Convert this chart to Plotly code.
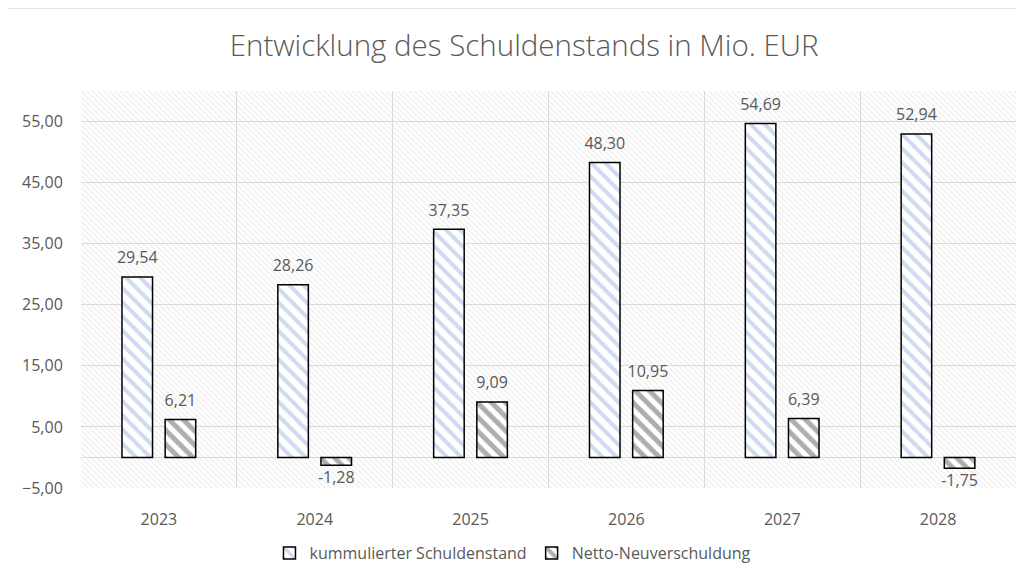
import plotly.graph_objects as go

years = ["2023", "2024", "2025", "2026", "2027", "2028"]
kumuliert = [29.54, 28.26, 37.35, 48.30, 54.69, 52.94]
netto = [6.21, -1.28, 9.09, 10.95, 6.39, -1.75]
y_ticks = [-5, 5, 15, 25, 35, 45, 55]

pos = list(range(len(years)))
TXT = "#595959"
GRID = "#d9d9d9"
FONT = "Open Sans"
BW = 0.196
OFF1, OFF2 = -0.237, 0.04

fig = go.Figure()

# hatched plot-area background
fig.add_trace(go.Bar(
    x=[(len(years) - 1) / 2], y=[65], base=[-5], width=[len(years)],
    marker=dict(color="rgba(0,0,0,0)", line=dict(width=0),
                pattern=dict(shape="\\", fgcolor="#dedede", bgcolor="rgba(0,0,0,0)",
                             size=4, solidity=0.35)),
    showlegend=False, hoverinfo="skip",
))

series = [
    ("kummulierter Schuldenstand", kumuliert, OFF1, "#9cb6e2", 0.4),
    ("Netto-Neuverschuldung", netto, OFF2, "#5e5e5e", 0.5),
]
for name, vals, off, col, sol in series:
    fig.add_trace(go.Bar(
        name=name, x=pos, y=vals, width=BW, offset=off,
        marker=dict(color="white", line=dict(color="black", width=1.5),
                    pattern=dict(shape="\\", fgcolor=col, bgcolor="white",
                                 size=10, solidity=sol)),
        hoverinfo="skip",
    ))
for name, vals, off, col, sol in series:
    fig.add_trace(go.Scatter(
        x=[p + off + BW / 2 for p in pos], y=vals,
        mode="markers+text", texttemplate="%{y:.2f}",
        textposition=["top center" if v >= 0 else "bottom center" for v in vals],
        marker=dict(size=[14 if v >= 0 else 8 for v in vals], opacity=0),
        textfont=dict(family=FONT, size=16, color=TXT),
        showlegend=False, hoverinfo="skip", cliponaxis=False,
    ))

fig.update_layout(
    width=1016, height=575,
    margin=dict(l=73, r=8, t=83, b=95),
    paper_bgcolor="white", plot_bgcolor="white",
    barmode="overlay", separators=",.",
    font=dict(family=FONT, size=16, color=TXT),
    title=dict(text="Entwicklung des Schuldenstands in Mio. EUR",
               x=0.508, xanchor="center", y=0.935, yanchor="middle",
               font=dict(family=FONT, size=29.5, color=TXT, weight=300)),
    legend=dict(orientation="h", x=0.462, xanchor="center", y=-0.164, yanchor="middle",
                font=dict(family=FONT, size=16, color=TXT), itemwidth=30,
                traceorder="normal"),
    xaxis=dict(range=[-0.5, len(years) - 0.5], tickmode="array", tickvals=pos, ticktext=years,
               showgrid=False, zeroline=False, showline=False,
               ticks="outside", ticklen=17, tickcolor="rgba(0,0,0,0)",
               tickfont=dict(family=FONT, size=16, color=TXT),
               minor=dict(tickmode="array", tickvals=[p - 0.5 for p in pos] + [len(years) - 0.5],
                          showgrid=True, gridcolor=GRID, gridwidth=1.3, ticks="")),
    yaxis=dict(range=[-5, 60], tickmode="array", tickvals=y_ticks, tickformat=".2f",
               showgrid=True, gridcolor=GRID, gridwidth=1.3,
               zeroline=True, zerolinecolor=GRID, zerolinewidth=1.3, showline=False,
               ticks="outside", ticklen=14, tickcolor="rgba(0,0,0,0)",
               tickfont=dict(family=FONT, size=16, color=TXT)),
    shapes=[dict(type="rect", xref="paper", yref="paper",
                 x0=(7 - 81) / 935, x1=1.2, y0=-0.6, y1=1 + (91 - 8) / 397,
                 line=dict(color=GRID, width=1.3), layer="below")],
)

fig.write_html("out.html")
